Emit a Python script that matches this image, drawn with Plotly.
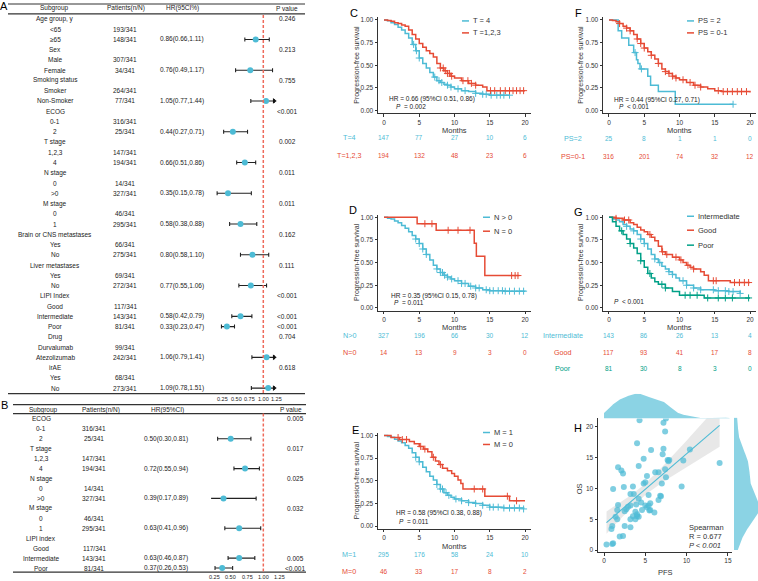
import numpy as np
import plotly.graph_objects as go

W, H = 758, 581
FONT = "Liberation Sans, Arial, Helvetica, sans-serif"
CYAN, RED, TEAL = "#4DBBD5", "#E64B35", "#00A087"
INK = "#222222"

# ---------------- Panel A (forest, univariate) ----------------
A_subgroup = ["Age group, y", "<65", "≥65", "Sex", "Male", "Female", "Smoking status", "Smoker",
              "Non-Smoker", "ECOG", "0-1", "2", "T stage", "1,2,3", "4", "N stage", "0", ">0",
              "M stage", "0", "1", "Brain or CNS metastases", "Yes", "No", "Liver metastases", "Yes",
              "No", "LIPI Index", "Good", "Intermediate", "Poor", "Drug", "Durvalumab", "Atezolizumab",
              "irAE", "Yes", "No"]
A_patients = ["", "193/341", "148/341", "", "307/341", "34/341", "", "264/341", "77/341", "", "316/341",
              "25/341", "", "147/341", "194/341", "", "14/341", "327/341", "", "46/341", "295/341", "",
              "66/341", "275/341", "", "69/341", "272/341", "", "117/341", "143/341", "81/341", "",
              "99/341", "242/341", "", "68/341", "273/341"]
A_hr = [None, None, 0.86, None, None, 0.76, None, None, 1.05, None, None, 0.44, None, None, 0.66, None,
        None, 0.35, None, None, 0.58, None, None, 0.80, None, None, 0.77, None, None, 0.58, 0.33, None,
        None, 1.06, None, None, 1.09]
A_lo = [None, None, 0.66, None, None, 0.49, None, None, 0.77, None, None, 0.27, None, None, 0.51, None,
        None, 0.15, None, None, 0.38, None, None, 0.58, None, None, 0.55, None, None, 0.42, 0.23, None,
        None, 0.79, None, None, 0.78]
A_hi = [None, None, 1.11, None, None, 1.17, None, None, 1.44, None, None, 0.71, None, None, 0.86, None,
        None, 0.78, None, None, 0.88, None, None, 1.10, None, None, 1.06, None, None, 0.79, 0.47, None,
        None, 1.41, None, None, 1.51]
A_pvalue = ["0.246", "", "", "0.213", "", "", "0.755", "", "", "<0.001", "", "", "0.002", "", "",
            "0.011", "", "", "0.011", "", "", "0.162", "", "", "0.111", "", "", "<0.001", "", "<0.001",
            "<0.001", "0.704", "", "", "0.618", "", ""]
A_header = ["Subgroup", "Patients(n/N)", "HR(95CI%)", "P value"]

# ---------------- Panel B (forest, multivariate) ----------------
B_subgroup = ["ECOG", "0-1", "2", "T stage", "1,2,3", "4", "N stage", "0", ">0", "M stage", "0", "1",
              "LIPI index", "Good", "Intermediate", "Poor"]
B_patients = ["", "316/341", "25/341", "", "147/341", "194/341", "", "14/341", "327/341", "", "46/341",
              "295/341", "", "117/341", "143/341", "81/341"]
B_hr = [None, None, 0.50, None, None, 0.72, None, None, 0.39, None, None, 0.63, None, None, 0.63, 0.37]
B_lo = [None, None, 0.30, None, None, 0.55, None, None, 0.17, None, None, 0.41, None, None, 0.46, 0.26]
B_hi = [None, None, 0.81, None, None, 0.94, None, None, 0.89, None, None, 0.96, None, None, 0.87, 0.53]
B_pvalue = ["0.005", "", "", "0.017", "", "", "0.025", "", "", "0.032", "", "", "", "", "0.005", "<0.001"]
B_header = ["Subgroup", "Patients(n/N)", "HR(95%CI)", "P value"]

FOREST_TICKS = [0.25, 0.50, 0.75, 1.00, 1.25]

# ---------------- KM curves ----------------
C_T4_t = [0, 0.5, 1, 1.5, 2, 2.5, 3, 3.5, 4, 4.5, 5, 5.5, 6, 6.5, 7, 7.5, 8, 8.5, 9, 9.5, 10, 11, 12, 13, 14, 15, 17.8]
C_T4_s = [1, 0.99, 0.97, 0.95, 0.92, 0.89, 0.85, 0.80, 0.73, 0.66, 0.58, 0.52, 0.47, 0.42, 0.37, 0.33, 0.31,
          0.29, 0.28, 0.26, 0.24, 0.22, 0.21, 0.19, 0.18, 0.17, 0.17]
C_T4_cens = [4.2, 4.6, 5.0, 7.2, 7.8, 8.2, 9.0, 9.5, 10.5, 11.5, 13.0, 14.0, 14.5, 15.2, 16.0, 16.5, 17.0, 17.8]
C_T123_t = [0, 0.5, 1, 1.5, 2, 2.5, 3, 3.5, 4, 4.5, 5, 5.5, 6, 6.5, 7, 7.5, 8, 8.5, 9, 9.5, 10, 11, 12, 13, 14, 14.6, 20]
C_T123_s = [1, 0.995, 0.985, 0.97, 0.96, 0.945, 0.93, 0.89, 0.84, 0.79, 0.74, 0.70, 0.66, 0.63, 0.59, 0.52,
            0.47, 0.44, 0.41, 0.38, 0.36, 0.33, 0.30, 0.28, 0.26, 0.22, 0.22]
C_T123_cens = [8.0, 8.4, 8.7, 9.0, 9.3, 9.6, 11.2, 11.9, 12.4, 13.0, 15.1, 15.7, 16.5, 17.2, 17.8, 18.3, 18.8, 19.3, 19.8]
C_risk_T4 = [147, 77, 27, 10, 6]
C_risk_T123 = [194, 132, 48, 23, 6]

D_Npos_t = [0, 0.5, 1, 1.5, 2, 2.5, 3, 3.5, 4, 4.5, 5, 5.5, 6, 6.5, 7, 7.5, 8, 8.5, 9, 9.5, 10, 11, 12, 13, 14, 15, 17, 20]
D_Npos_s = [1, 0.99, 0.98, 0.96, 0.94, 0.91, 0.88, 0.84, 0.80, 0.76, 0.71, 0.65, 0.59, 0.53, 0.47, 0.43, 0.39,
            0.36, 0.34, 0.32, 0.30, 0.27, 0.24, 0.22, 0.20, 0.19, 0.185, 0.18]
D_Npos_cens = [4.5, 5.0, 5.5, 6.0, 7.5, 8.0, 8.3, 8.6, 9.0, 9.6, 10.5, 11.0, 11.5, 12.3, 13.0, 13.5, 14.5, 15.0,
               15.5, 16.2, 16.8, 17.2, 17.8, 18.5, 19.2, 19.8]
D_N0_t = [0, 4.7, 7.4, 12.8, 13.1, 14.3, 19.2]
D_N0_s = [1, 0.929, 0.857, 0.714, 0.571, 0.357, 0.357]
D_N0_cens = [5.8, 6.8, 9.1, 10.5, 12.2, 18.1, 18.6, 19.0]
D_risk_Npos = [327, 196, 66, 30, 12]
D_risk_N0 = [14, 13, 9, 3, 0]

E_M1_t = [0, 0.5, 1, 1.5, 2, 2.5, 3, 3.5, 4, 4.5, 5, 5.5, 6, 6.5, 7, 7.5, 8, 8.5, 9, 9.5, 10, 11, 12, 13, 14, 15, 17, 19.8]
E_M1_s = [1, 0.99, 0.98, 0.96, 0.94, 0.92, 0.89, 0.86, 0.81, 0.76, 0.71, 0.65, 0.60, 0.55, 0.51, 0.46, 0.41,
          0.37, 0.34, 0.32, 0.30, 0.28, 0.26, 0.25, 0.23, 0.21, 0.20, 0.19]
E_M1_cens = [4.5, 5.0, 7.5, 8.0, 8.3, 8.8, 9.2, 10.2, 11.0, 12.0, 13.0, 14.0, 15.0, 15.5, 16.2, 17.0, 17.8,
             18.5, 19.2, 19.8]
E_M0_t = [0, 1.0, 2.2, 3.6, 4.3, 5.0, 5.6, 6.2, 6.8, 7.3, 7.8, 8.3, 9.0, 9.6, 10.0, 10.5, 10.9, 11.2, 14.3, 17.8, 20]
E_M0_s = [1, 0.978, 0.956, 0.933, 0.91, 0.88, 0.85, 0.82, 0.76, 0.72, 0.68, 0.64, 0.61, 0.58, 0.55, 0.51,
          0.47, 0.41, 0.33, 0.28, 0.28]
E_M0_cens = [2.0, 2.6, 3.2, 5.2, 5.8, 7.0, 8.0, 12.8, 14.0, 17.5, 18.8]
E_risk_M1 = [295, 176, 58, 24, 10]
E_risk_M0 = [46, 33, 17, 8, 2]

F_PS2_t = [0, 1.3, 1.8, 2.8, 3.5, 3.9, 4.1, 4.4, 5.5, 5.9, 7.0, 9.4, 17.6]
F_PS2_s = [1, 0.88, 0.80, 0.72, 0.64, 0.56, 0.52, 0.46, 0.38, 0.28, 0.21, 0.07, 0.07]
F_PS2_cens = [3.7, 4.6, 17.6]
F_PS01_t = [0, 0.5, 1, 1.5, 2, 2.5, 3, 3.5, 4, 4.5, 5, 5.5, 6, 6.5, 7, 7.5, 8, 8.5, 9, 9.5, 10, 11, 12, 13, 14, 15, 16, 20]
F_PS01_s = [1, 0.995, 0.98, 0.96, 0.93, 0.91, 0.88, 0.84, 0.79, 0.74, 0.69, 0.65, 0.61, 0.57, 0.52, 0.46,
            0.43, 0.41, 0.38, 0.36, 0.34, 0.31, 0.28, 0.26, 0.24, 0.22, 0.21, 0.20]
F_PS01_cens = [1.5, 2.5, 3.0, 4.0, 4.5, 5.0, 6.0, 7.0, 8.0, 8.5, 9.0, 9.5, 10.5, 11.5, 12.2, 13.0, 15.5, 16.2,
               16.8, 17.5, 18.2, 18.8, 19.5]
F_risk_PS2 = [25, 8, 1, 1, 0]
F_risk_PS01 = [316, 201, 74, 32, 12]

G_Int_t = [0, 0.5, 1, 1.5, 2, 2.5, 3, 3.5, 4, 4.5, 5, 5.5, 6, 6.5, 7, 7.5, 8, 8.5, 9, 9.5, 10, 11, 12, 13, 15, 17, 18.6]
G_Int_s = [1, 0.98, 0.97, 0.95, 0.92, 0.90, 0.87, 0.85, 0.81, 0.76, 0.71, 0.65, 0.59, 0.54, 0.50, 0.46, 0.43,
           0.40, 0.37, 0.33, 0.30, 0.25, 0.22, 0.20, 0.19, 0.18, 0.16]
G_Int_cens = [2.5, 3.5, 4.5, 5.0, 6.5, 7.2, 8.5, 9.0, 10.5, 11.0, 12.0, 13.0, 14.8, 15.5, 16.5, 17.0, 17.6, 18.6]
G_Good_t = [0, 1, 2, 3, 3.5, 4, 4.5, 5, 5.5, 6, 6.5, 7, 7.5, 8, 9, 10, 10.5, 11, 11.5, 12, 13, 13.5, 14.1, 17.2, 20]
G_Good_s = [1, 0.99, 0.97, 0.94, 0.92, 0.89, 0.86, 0.84, 0.81, 0.78, 0.74, 0.68, 0.62, 0.59, 0.56, 0.53, 0.50,
            0.47, 0.45, 0.43, 0.40, 0.36, 0.30, 0.28, 0.28]
G_Good_cens = [1.0, 2.2, 2.8, 5.8, 7.6, 8.2, 9.5, 10.2, 11.2, 12.0, 14.8, 15.2, 17.8, 18.5, 19.2, 19.8]
G_Poor_t = [0, 0.5, 1, 1.5, 2, 2.5, 3, 3.5, 4, 4.5, 5, 5.5, 6, 6.5, 7, 8, 9, 10, 13.5, 20]
G_Poor_s = [1, 0.95, 0.90, 0.85, 0.81, 0.76, 0.71, 0.66, 0.60, 0.52, 0.45, 0.38, 0.33, 0.29, 0.26, 0.22, 0.18,
            0.14, 0.11, 0.11]
G_Poor_cens = [1.8, 3.0, 4.5, 5.8, 7.5, 8.0, 10.8, 11.5, 12.5, 14.0, 15.5, 16.5, 17.5, 19.8]
G_risk_Int = [143, 86, 26, 13, 4]
G_risk_Good = [117, 93, 41, 17, 8]
G_risk_Poor = [81, 30, 8, 3, 0]

RISK_TIMES = [0, 5, 10, 15, 20]

# ---------------- Panel H (PFS vs OS) ----------------
H_PFS = [4.3, 7.2, 7.5, 7.4, 4.0, 5.7, 7.2, 10.4, 4.8, 7.1, 7.7, 7.8, 7.9, 9.6, 14.0, 1.7, 4.2, 2.1, 2.3, 6.2,
         6.6, 7.4, 5.2, 7.5, 1.1, 2.4, 3.5, 9.4, 4.8, 5.0, 7.0, 3.2, 3.6, 5.4, 6.8, 6.9, 4.2, 6.6, 1.7, 3.9,
         4.5, 5.6, 2.9, 3.2, 5.0, 5.2, 5.4, 2.7, 2.5, 1.6, 3.8, 4.6, 5.5, 5.6, 6.1, 3.5, 4.0, 4.2, 4.0, 1.4,
         1.6, 3.2, 3.8, 1.0, 0.9, 2.5, 3.2, 1.9, 2.3, 1.1, 1.0, 0.3]
H_OS = [21.0, 20.6, 21.3, 19.2, 17.3, 16.2, 16.4, 16.3, 14.8, 15.5, 14.6, 14.4, 14.6, 14.5, 14.1, 13.4, 13.6,
        12.9, 12.4, 12.6, 12.6, 13.1, 12.0, 11.8, 9.9, 10.2, 10.3, 10.3, 10.8, 11.0, 10.8, 9.1, 9.1, 8.9, 8.8,
        8.7, 8.3, 8.1, 7.3, 7.4, 7.7, 7.6, 7.0, 7.2, 7.2, 6.9, 7.2, 6.6, 6.3, 6.5, 6.2, 6.5, 6.4, 6.5, 6.1,
        5.5, 5.5, 5.4, 5.8, 5.4, 5.0, 5.0, 5.0, 3.9, 3.4, 3.9, 3.7, 2.2, 2.3, 1.1, 1.0, 0.9]


# ---------------- helpers ----------------
def PX(x): return x / W
def PY(y): return 1 - y / H
def DX(a, b): return [a / W, b / W]
def DY(top, bottom): return [1 - bottom / H, 1 - top / H]
def esc(s): return s.replace("<", "&lt;").replace(">", "&gt;")

annotations, shapes = [], []


def ann(text, x, y, xref="paper", yref="paper", size=6.5, color=INK, xanchor="center",
        yanchor="middle", angle=0):
    annotations.append(dict(text=text, x=x, y=y, xref=xref, yref=yref, showarrow=False,
                            font=dict(size=size, color=color, family=FONT), xanchor=xanchor,
                            yanchor=yanchor, textangle=angle, borderpad=0))


def hline(x0, x1, y, width=1.2, color="#333333"):
    shapes.append(dict(type="line", xref="paper", yref="paper", x0=PX(x0), x1=PX(x1), y0=PY(y), y1=PY(y),
                       line=dict(color=color, width=width)))


fig = go.Figure()
layout_axes = {}


def forest(est, lo, hi, xa, ya, clip):
    idx = [i for i, v in enumerate(est) if v is not None]
    fig.add_trace(go.Scatter(
        x=[est[i] for i in idx], y=idx, xaxis=xa, yaxis=ya, mode="markers",
        marker=dict(color=CYAN, size=6),
        error_x=dict(type="data", symmetric=False,
                     array=[min(hi[i], clip) - est[i] for i in idx],
                     arrayminus=[est[i] - lo[i] for i in idx],
                     color="#222222", thickness=1.1, width=2),
        cliponaxis=False, hoverinfo="skip"))
    cl = [i for i in idx if hi[i] > clip]
    if cl:
        fig.add_trace(go.Scatter(x=[clip] * len(cl), y=cl, xaxis=xa, yaxis=ya, mode="markers",
                                 marker=dict(symbol="triangle-right", size=5, color="#111111"),
                                 cliponaxis=False, hoverinfo="skip"))


def table(sub, pat, est, lo, hi, pv, yref, cols, header, header_cols, header_y):
    for i in range(len(sub)):
        ann(esc(sub[i]), PX(cols[0]), i, yref=yref)
        if pat[i]:
            ann(pat[i], PX(cols[1]), i, yref=yref)
        if est[i] is not None:
            ann(f"{est[i]:.2f}({lo[i]:.2f},{hi[i]:.2f})", PX(cols[2]), i, yref=yref)
        if pv[i]:
            ann(esc(pv[i]), PX(cols[3]), i, yref=yref)
    for h, cx in zip(header, header_cols):
        ann(h, PX(cx), PY(header_y))


def forest_axis(dom_x, rng, anchor):
    return dict(domain=DX(*dom_x), range=rng, anchor=anchor, showticklabels=False, showline=False,
                ticks="", showgrid=False, zeroline=False)


def forest_ticks(xref, y):
    for v in FOREST_TICKS:
        ann(f"{v:.2f}", v, PY(y), xref=xref, size=5.5, color=INK)


# ----- Panel A -----
forest(A_hr, A_lo, A_hi, "x", "y", 1.2)
table(A_subgroup, A_patients, A_hr, A_lo, A_hi, A_pvalue, "y", [55, 125, 182, 287], A_header,
      [54, 126, 182, 287], 7.5)
layout_axes["xaxis"] = forest_axis((214.4, 279.6), [0.1, 1.3], "y")
layout_axes["yaxis"] = dict(domain=DY(13, 394), range=[36.54, -0.486], anchor="x", visible=False)
forest_ticks("x", 399)
hline(8, 305, 3)
hline(8, 305, 13)
hline(8, 305, 394)
shapes.append(dict(type="line", xref="x", yref="paper", x0=1, x1=1, y0=PY(14), y1=PY(394),
                   line=dict(color="#EE6A5B", width=1.5, dash="3px,2px")))
ann("A", PX(3.5), PY(5), size=11, color="black")

# ----- Panel B -----
forest(B_hr, B_lo, B_hi, "x2", "y2", 1.2)
table(B_subgroup, B_patients, B_hr, B_lo, B_hi, B_pvalue, "y2", [41, 94, 166, 295], B_header,
      [43, 101, 167, 291], 410)
layout_axes["xaxis2"] = forest_axis((211.1, 282.9), [0.2, 1.3], "y2")
layout_axes["yaxis2"] = dict(domain=DY(414, 573), range=[15.4, -0.53], anchor="x2", visible=False)
forest_ticks("x2", 577.5)
hline(13, 306, 405)
hline(13, 306, 414)
hline(13, 306, 573)
shapes.append(dict(type="line", xref="x2", yref="paper", x0=1, x1=1, y0=PY(414), y1=PY(573),
                   line=dict(color="#EE6A5B", width=1.5, dash="3px,2px")))
ann("B", PX(4), PY(405), size=11, color="black")

# ----- KM panels -----
panels = [
    dict(n=3, xdom=(378, 531), ydom=(16.3, 112.7), letter="C", letter_xy=(354, 12), ytitle_xy=(357, 64),
         months_y=130,
         curves=[(C_T4_t, C_T4_s, C_T4_cens, CYAN), (C_T123_t, C_T123_s, C_T123_cens, RED)],
         risk=[("T=4", C_risk_T4, CYAN, 137), ("T=1,2,3", C_risk_T123, RED, 155)], risk_x=349,
         legend=[("T = 4", CYAN), ("T =1,2,3", RED)], legend_x=462, legend_y=[20, 32],
         stats=[("HR = 0.66 (95%CI 0.51, 0.86)", 388, 98), ("<i>P</i>  = 0.002", 395, 106)]),
    dict(n=4, xdom=(378, 531), ydom=(214.3, 310.7), letter="D", letter_xy=(353, 210), ytitle_xy=(357, 262),
         months_y=328,
         curves=[(D_Npos_t, D_Npos_s, D_Npos_cens, CYAN), (D_N0_t, D_N0_s, D_N0_cens, RED)],
         risk=[("N>0", D_risk_Npos, CYAN, 336), ("N=0", D_risk_N0, RED, 353)], risk_x=349,
         legend=[("N > 0", CYAN), ("N = 0", RED)], legend_x=483, legend_y=[217, 231],
         stats=[("HR = 0.35 (95%CI 0.15, 0.78)", 390, 296), ("<i>P</i>  = 0.011", 393, 303)]),
    dict(n=5, xdom=(378, 531), ydom=(433.3, 529.7), letter="E", letter_xy=(355, 430), ytitle_xy=(357, 481),
         months_y=547,
         curves=[(E_M1_t, E_M1_s, E_M1_cens, CYAN), (E_M0_t, E_M0_s, E_M0_cens, RED)],
         risk=[("M=1", E_risk_M1, CYAN, 555), ("M=0", E_risk_M0, RED, 572)], risk_x=349,
         legend=[("M = 1", CYAN), ("M = 0", RED)], legend_x=483, legend_y=[433, 445],
         stats=[("HR = 0.58 (95%CI 0.38, 0.88)", 395, 514), ("<i>P</i>  = 0.011", 398, 522)]),
    dict(n=6, xdom=(603, 756), ydom=(16.3, 112.7), letter="F", letter_xy=(578, 12), ytitle_xy=(581, 64),
         months_y=130,
         curves=[(F_PS2_t, F_PS2_s, F_PS2_cens, CYAN), (F_PS01_t, F_PS01_s, F_PS01_cens, RED)],
         risk=[("PS=2", F_risk_PS2, CYAN, 138), ("PS=0-1", F_risk_PS01, RED, 156)], risk_x=573,
         legend=[("PS = 2", CYAN), ("PS = 0-1", RED)], legend_x=687, legend_y=[20, 32],
         stats=[("HR = 0.44 (95%CI 0.27, 0.71)", 613, 99), ("<i>P</i>  &lt; 0.001", 618, 106)]),
    dict(n=7, xdom=(603, 756), ydom=(214.3, 310.7), letter="G", letter_xy=(578, 212), ytitle_xy=(581, 262),
         months_y=328,
         curves=[(G_Int_t, G_Int_s, G_Int_cens, CYAN), (G_Good_t, G_Good_s, G_Good_cens, RED),
                 (G_Poor_t, G_Poor_s, G_Poor_cens, TEAL)],
         risk=[("Intermediate", G_risk_Int, CYAN, 336), ("Good", G_risk_Good, RED, 353),
               ("Poor", G_risk_Poor, TEAL, 369)], risk_x=563,
         legend=[("Intermediate", CYAN), ("Good", RED), ("Poor", TEAL)], legend_x=687,
         legend_y=[216, 230, 245],
         stats=[("<i>P</i>  &lt; 0.001", 613, 302)]),
]

axis_style = dict(showline=True, linecolor="#333333", linewidth=1, ticks="outside", ticklen=2.5,
                  tickcolor="#333333", tickwidth=1, showgrid=False, zeroline=False,
                  tickfont=dict(size=6.5, color="#333333", family=FONT))

for p in panels:
    n = p["n"]
    xa, ya = f"x{n}", f"y{n}"
    for t, s, cens, col in p["curves"]:
        fig.add_trace(go.Scatter(x=t, y=s, xaxis=xa, yaxis=ya, mode="lines",
                                 line=dict(color=col, width=1.5, shape="hv"), hoverinfo="skip"))
        cy = [s[max(i for i in range(len(t)) if t[i] <= c)] for c in cens]
        fig.add_trace(go.Scatter(x=cens, y=cy, xaxis=xa, yaxis=ya, mode="markers",
                                 marker=dict(symbol="cross-thin", size=5, color=col,
                                             line=dict(color=col, width=1)), hoverinfo="skip"))
    layout_axes[f"xaxis{n}"] = dict(domain=DX(*p["xdom"]), range=[-0.85, 20.85], anchor=ya,
                                    tickvals=RISK_TIMES, tickangle=0, **axis_style)
    layout_axes[f"yaxis{n}"] = dict(domain=DY(*p["ydom"]), range=[-0.03, 1.03], anchor=xa,
                                    tickvals=[0, 0.25, 0.5, 0.75, 1],
                                    ticktext=["0.00", "0.25", "0.50", "0.75", "1.00"], **axis_style)
    ann(p["letter"], PX(p["letter_xy"][0]), PY(p["letter_xy"][1]), size=11, color="black")
    ann("Progression-free survival", PX(p["ytitle_xy"][0]), PY(p["ytitle_xy"][1]), size=7, color="#333333",
        angle=-90)
    ann("Months", 10, PY(p["months_y"]), xref=xa, size=7.5, color="#333333")
    for label, counts, col, ry in p["risk"]:
        ann(esc(label), PX(p["risk_x"]), PY(ry), size=7.2, color=col)
        for m, c in zip(RISK_TIMES, counts):
            ann(str(c), m, PY(ry), xref=xa, size=6.5, color=col)
    for (label, col), ly in zip(p["legend"], p["legend_y"]):
        shapes.append(dict(type="line", xref="paper", yref="paper", x0=PX(p["legend_x"]),
                           x1=PX(p["legend_x"] + 7), y0=PY(ly), y1=PY(ly), line=dict(color=col, width=1.5)))
        ann(esc(label), PX(p["legend_x"] + 10), PY(ly), size=7.5, color="#333333", xanchor="left")
    for txt, sx, sy in p["stats"]:
        ann(txt, PX(sx), PY(sy), size=6.5, color="#222222", xanchor="left")

# ----- Panel H -----
px_ = np.array(H_PFS)
os_ = np.array(H_OS)
slope, intercept = np.polyfit(px_, os_, 1)
xg = np.linspace(px_.min(), px_.max(), 80)
yhat = intercept + slope * xg
nobs = len(px_)
resid = os_ - (intercept + slope * px_)
sres = np.sqrt(np.sum(resid ** 2) / (nobs - 2))
sxx = np.sum((px_ - px_.mean()) ** 2)
se = sres * np.sqrt(1 / nobs + (xg - px_.mean()) ** 2 / sxx)
tcrit = 1.994
fig.add_trace(go.Scatter(x=np.concatenate([xg, xg[::-1]]),
                         y=np.concatenate([yhat + tcrit * se, (yhat - tcrit * se)[::-1]]),
                         xaxis="x8", yaxis="y8", mode="lines", fill="toself",
                         fillcolor="rgba(190,190,190,0.35)", line=dict(width=0), hoverinfo="skip"))
fig.add_trace(go.Scatter(x=px_, y=os_, xaxis="x8", yaxis="y8", mode="markers",
                         marker=dict(color="rgba(77,187,213,0.72)", size=6), cliponaxis=False,
                         hoverinfo="skip"))
fig.add_trace(go.Scatter(x=xg, y=yhat, xaxis="x8", yaxis="y8", mode="lines",
                         line=dict(color=CYAN, width=1.1), hoverinfo="skip"))


def kde(v, grid):
    q75, q25 = np.percentile(v, [75, 25])
    bw = 0.9 * min(v.std(ddof=1), (q75 - q25) / 1.34) * len(v) ** -0.2
    z = (grid[:, None] - v[None, :]) / bw
    return np.exp(-0.5 * z ** 2).sum(axis=1) / (len(v) * bw * np.sqrt(2 * np.pi))


gx = np.linspace(0, 15.2, 200)
dx = kde(px_, gx)
gy = np.linspace(0, 21.4, 200)
dy = kde(os_, gy)
fig.add_trace(go.Scatter(x=gx, y=dx, xaxis="x9", yaxis="y9", mode="lines", fill="tozeroy",
                         fillcolor="rgba(77,187,213,0.65)", line=dict(width=0), hoverinfo="skip"))
fig.add_trace(go.Scatter(x=dy, y=gy, xaxis="x10", yaxis="y10", mode="lines", fill="tozerox",
                         fillcolor="rgba(77,187,213,0.65)", line=dict(width=0), hoverinfo="skip"))

h_range_x = [-0.73, 15.5]
h_range_y = [-0.32, 21.45]
layout_axes["xaxis8"] = dict(domain=DX(598, 732), range=h_range_x, anchor="y8", tickvals=[0, 5, 10, 15],
                             tickangle=0, **axis_style)
layout_axes["yaxis8"] = dict(domain=DY(418, 553), range=h_range_y, anchor="x8", tickvals=[0, 5, 10, 15, 20],
                             **axis_style)
layout_axes["xaxis9"] = dict(domain=DX(598, 732), range=h_range_x, anchor="y9", visible=False)
layout_axes["yaxis9"] = dict(domain=DY(394, 419), range=[0, dx.max() * 1.0], anchor="x9", visible=False)
layout_axes["xaxis10"] = dict(domain=DX(734, 758), range=[0, dy.max() * 0.95], anchor="y10", visible=False)
layout_axes["yaxis10"] = dict(domain=DY(418, 553), range=h_range_y, anchor="x10", visible=False)

ann("H", PX(578), PY(428), size=11, color="black")
ann("PFS", 7.5, PY(573), xref="x8", size=7.5, color="#333333")
ann("OS", PX(579), PY(490), size=7.5, color="#333333", angle=-90)
ann("Spearman", PX(688), PY(528), size=7.5, color="#333333", xanchor="left")
ann("R = 0.677", PX(688), PY(537), size=7.5, color="#333333", xanchor="left")
ann("<i>P &lt; 0.001</i>", PX(688), PY(546), size=7.5, color="#333333", xanchor="left")

fig.update_layout(
    width=W, height=H, autosize=False, margin=dict(l=0, r=0, t=0, b=0),
    paper_bgcolor="white", plot_bgcolor="white", showlegend=False, hovermode=False,
    font=dict(family=FONT, color=INK), annotations=annotations, shapes=shapes, **layout_axes)

fig.write_html("out.html", config={"displayModeBar": False, "staticPlot": True},
               post_script="document.body.style.margin='0px';document.body.style.overflow='hidden';")
